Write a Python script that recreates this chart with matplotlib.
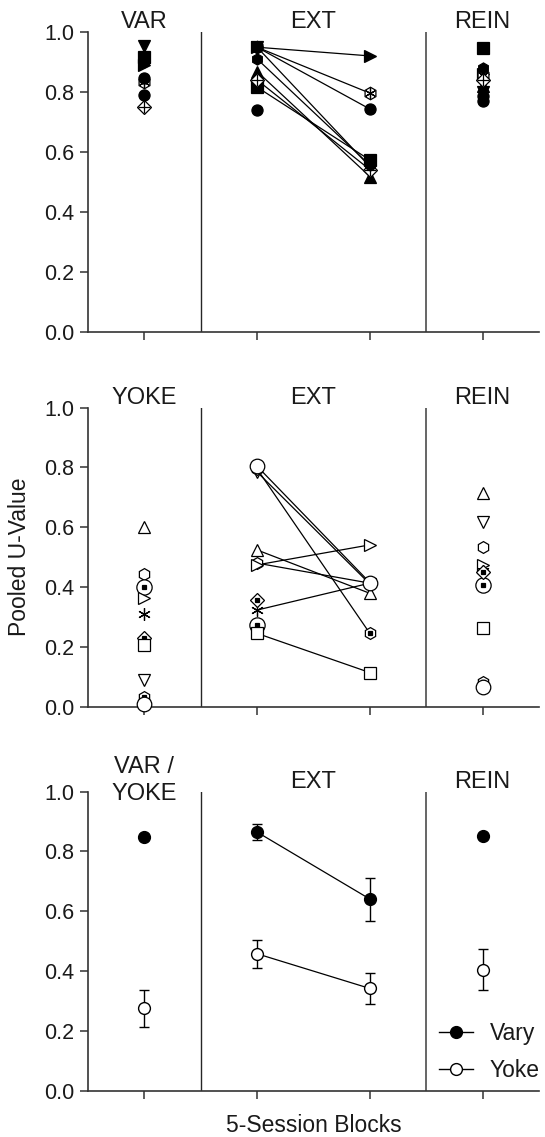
import numpy as np
import matplotlib
matplotlib.use("Agg")
import matplotlib.pyplot as plt
from matplotlib.lines import Line2D

plt.rcParams['font.family'] = ['Liberation Sans', 'DejaVu Sans']

# x positions: VAR/YOKE, EXT block 1, EXT block 2, REIN
xpos = [1, 2, 3, 4]
yticks = [0.0, 0.2, 0.4, 0.6, 0.8, 1.0]

# panel 1: Vary group, individual subjects (VAR, EXT1, EXT2, REIN)
vary_kinds = ['f>', 'xh', 'fo', 'fs', 'f^', 'fv', 'xD', 'fh', 'fo']
vary_vals = [
    [0.889, 0.948, 0.919, 0.860],
    [0.833, 0.948, 0.795, 0.855],
    [0.845, 0.948, 0.742, 0.768],
    [0.917, 0.815, 0.572, 0.945],
    [0.917, 0.867, 0.517, 0.820],
    [0.952, 0.948, 0.550, 0.800],
    [0.748, 0.839, 0.540, 0.840],
    [0.900, 0.909, 0.555, 0.880],
    [0.789, 0.739, np.nan, 0.785],
]

# panel 2: Yoke group, individual subjects
yoke_kinds = ['o^', 'oh', 'dO', 'o>', 'ast', 'dD', 'os', 'ov', 'dh', 'oO']
yoke_vals = [
    [0.602, 0.524, 0.379, 0.714],
    [0.444, 0.480, 0.413, 0.535],
    [0.401, 0.273, np.nan, 0.407],
    [0.362, 0.474, 0.541, 0.474],
    [0.310, 0.323, 0.413, 0.455],
    [0.229, 0.357, np.nan, 0.450],
    [0.206, 0.245, 0.114, 0.262],
    [0.089, 0.785, 0.410, 0.619],
    [0.031, 0.795, 0.245, 0.084],
    [0.009, 0.804, 0.415, 0.067],
]

# panel 3: group means and errors
vary_mean = [0.849, 0.865, 0.641, 0.852]
vary_err = [0.010, 0.026, 0.072, 0.008]
yoke_mean = [0.275, 0.458, 0.342, 0.405]
yoke_err = [0.062, 0.047, 0.053, 0.068]

titles1 = ['VAR', 'EXT', 'REIN']
titles2 = ['YOKE', 'EXT', 'REIN']
titles3 = ['VAR /\nYOKE', 'EXT', 'REIN']


def draw_mark(ax, xs, ys, kind):
    kw = dict(ls='none', clip_on=False, zorder=3, mec='k', mew=0.9)
    if kind[0] == 'f':
        ax.plot(xs, ys, marker=kind[1], ms=8, mfc='k', **kw)
    elif kind == 'ast':
        ax.plot(xs, ys, marker=(6, 2, 0), ms=9, mfc='none', **kw)
    elif kind == 'xh':
        ax.plot(xs, ys, marker='h', ms=9, mfc='white', **kw)
        ax.plot(xs, ys, marker=(6, 2, 0), ms=8, **kw)
    elif kind == 'xD':
        ax.plot(xs, ys, marker='D', ms=7, mfc='white', **kw)
        ax.plot(xs, ys, marker='+', ms=9, **kw)
    elif kind[0] == 'o':
        m = kind[1]
        ms = 8.5
        if m == 'O':
            m, ms = 'o', 10.5
        elif m == 's':
            ms = 9
        ax.plot(xs, ys, marker=m, ms=ms, mfc='white', **kw)
    elif kind[0] == 'd':
        m = kind[1]
        ms = 8.5
        if m == 'O':
            m, ms = 'o', 11
        elif m == 'D':
            ms = 7
        ax.plot(xs, ys, marker=m, ms=ms, mfc='white', **kw)
        ax.plot(xs, ys, marker='s', ms=3.5, mfc='k', **kw)


def setup(ax, titles):
    ax.set_xlim(0.5, 4.5)
    ax.set_ylim(0, 1.0)
    ax.set_xticks(xpos)
    ax.set_xticklabels([])
    ax.set_yticks(yticks)
    ax.set_yticklabels(['%.1f' % t for t in yticks])
    ax.tick_params(direction='out', length=6, width=1.1, labelsize=15.5,
                   pad=4, color='0.2', labelcolor='0.1')
    for s in ['top', 'right']:
        ax.spines[s].set_visible(False)
    for s in ['left', 'bottom']:
        ax.spines[s].set_linewidth(1.2)
        ax.spines[s].set_color('0.2')
    ax.axvline(1.5, color='0.15', lw=1.0, zorder=1)
    ax.axvline(3.5, color='0.35', lw=1.3, zorder=1)
    for xt, t in zip([1, 2.5, 4], titles):
        if '\n' in t:
            ax.text(xt, 1.118, t, ha='center', va='top', fontsize=17,
                    linespacing=1.25, color='0.1')
        else:
            ax.text(xt, 1.013, t, ha='center', va='baseline', fontsize=17,
                    color='0.1')


fig = plt.figure(figsize=(5.45, 11.37), dpi=100)
left, width = 0.1613, 0.8277
ax1 = fig.add_axes([left, 0.7083, width, 0.2639])
ax2 = fig.add_axes([left, 0.3785, width, 0.2630])
ax3 = fig.add_axes([left, 0.0407, width, 0.2630])

# panel 1
setup(ax1, titles1)
for kind, vals in zip(vary_kinds, vary_vals):
    ax1.plot(xpos[1:3], vals[1:3], color='k', lw=0.9, zorder=2)
    draw_mark(ax1, xpos, vals, kind)

# panel 2
setup(ax2, titles2)
for kind, vals in zip(yoke_kinds, yoke_vals):
    ax2.plot(xpos[1:3], vals[1:3], color='k', lw=0.9, zorder=2)
    draw_mark(ax2, xpos, vals, kind)
ax2.set_ylabel('Pooled U-Value', fontsize=16.5, labelpad=9, color='0.1')

# panel 3
setup(ax3, titles3)
ax3.plot(xpos[1:3], vary_mean[1:3], color='k', lw=0.9, zorder=2)
ax3.plot(xpos[1:3], yoke_mean[1:3], color='k', lw=0.9, zorder=2)
ax3.errorbar(xpos, vary_mean, yerr=vary_err, fmt='o', ms=8.5, mfc='k',
             mec='k', ecolor='k', elinewidth=1, capsize=3.5, capthick=1,
             zorder=3)
ax3.errorbar(xpos, yoke_mean, yerr=yoke_err, fmt='o', ms=8.5, mfc='white',
             mec='k', mew=1, ecolor='k', elinewidth=1, capsize=3.5,
             capthick=1, zorder=3)
ax3.set_xlabel('5-Session Blocks', fontsize=16.5, labelpad=7, color='0.1')

handles = [Line2D([], [], color='k', lw=1, marker='o', ms=8.5, mfc='k', mec='k'),
           Line2D([], [], color='k', lw=1, marker='o', ms=8.5, mfc='white', mec='k')]
leg = ax3.legend(handles, ['Vary', 'Yoke'], loc='center left',
                 bbox_to_anchor=(0.779, 0.13), frameon=False, fontsize=16.5,
                 handlelength=1.45, handletextpad=0.75, labelspacing=0.6,
                 borderpad=0, borderaxespad=0)
for t in leg.get_texts():
    t.set_color('0.1')

fig.savefig('out.png', dpi=100)
